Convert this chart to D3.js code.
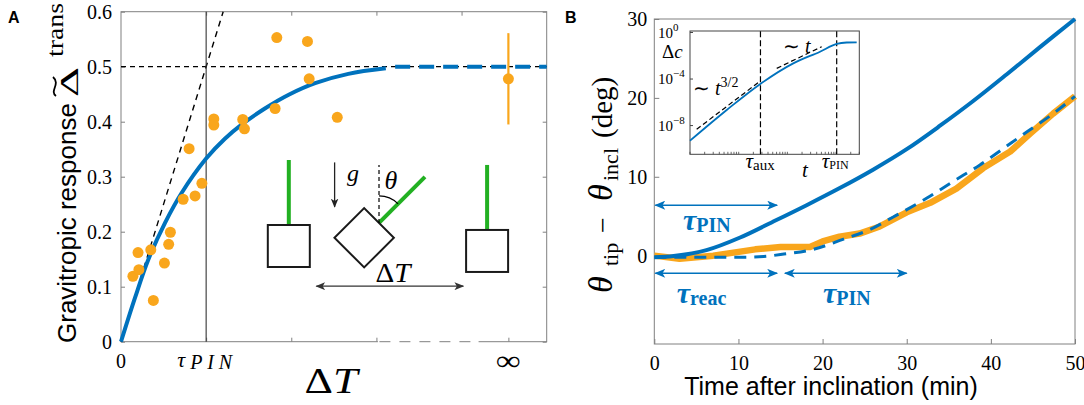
<!DOCTYPE html>
<html>
<head>
<meta charset="utf-8">
<script src="https://cdn.jsdelivr.net/npm/d3@7"></script>
<style>
body { margin: 0; background: #fff; }
svg { display: block; }
</style>
</head>
<body>
<script>
var w = 1084;
var h = 405;
var svg = d3.select("body")
	.append("svg")
	.attr("width", w)
	.attr("height", h);

var blue = "#0072bd";
var orange = "#f9a61c";
var green = "#22b022";
var axisGrey = "#808080";
var serif = "'Liberation Serif', 'Times New Roman', serif";
var sans = "'Liberation Sans', Arial, sans-serif";

// panel A, x in units of tau_PIN
var respX = [0.14, 0.21, 0.20, 0.35, 0.38, 0.51, 0.56, 0.58, 0.73, 0.80, 0.87, 0.95, 1.09, 1.09, 1.43, 1.45, 1.81, 1.83, 2.19, 2.21, 2.54];
var respY = [0.119, 0.131, 0.162, 0.167, 0.075, 0.143, 0.177, 0.199, 0.259, 0.351, 0.265, 0.288, 0.405, 0.394, 0.404, 0.387, 0.424, 0.553, 0.546, 0.478, 0.408];
var fitX = [0, 0.165, 0.32, 0.52, 0.71, 1.0, 1.22, 1.42, 1.69, 1.97, 2.28, 2.67, 3.11];
var fitY = [0, 0.080, 0.149, 0.217, 0.270, 0.333, 0.369, 0.395, 0.424, 0.449, 0.470, 0.487, 0.497];
var tangentX = [0, 1.2];
var tangentY = [0, 0.6];
var plateau = 0.5;
var infX = 4.55;
var infY = 0.478;
var infLow = 0.395;
var infHigh = 0.561;
var aYTicks = [0, 0.1, 0.2, 0.3, 0.4, 0.5, 0.6];
var aTopTicks = [1, 2, 3, 4];
var aBottomTicks = [1, 2, 3, infX];

// schematic plants drawn inside panel A (data units of A)
var plantX = [1.971, 2.856, 4.3];
var plantY = [0.174, 0.189, 0.165];
var plantTilt = [0, 45, 0];

// panel B, minutes / degrees
var timeObs = [0, 3, 7, 12, 15, 18.5, 20, 22, 24.4, 26.8, 30, 32.8, 35.9, 39.1, 42.3, 44.7, 47.4, 50];
var thetaObs = [0, -0.4, 0, 0.8, 1.1, 1.1, 1.8, 2.4, 2.8, 3.7, 5.5, 6.7, 8.5, 11.1, 13.2, 15.5, 18.0, 20.2];
var timeFit = [0, 5, 10, 13, 15.4, 18.9, 22.5, 25.4, 28.4, 32.4, 35.5, 38.7, 41.5, 44.3, 47.4, 50];
var thetaFit = [-0.2, -0.2, -0.2, -0.1, 0.2, 0.8, 2.1, 3.2, 4.9, 7.3, 9.4, 11.5, 13.6, 15.7, 18.0, 20.2];
var timeModel = [0, 2.3, 6.2, 10.2, 14.1, 18.1, 22.1, 26, 30, 34, 37.9, 41.9, 45.8, 50];
var thetaModel = [-0.2, -0.05, 0.7, 2.3, 4.3, 6.4, 8.6, 10.9, 13.5, 16.5, 19.6, 23.0, 26.4, 30];
var bXTicks = [0, 10, 20, 30, 40, 50];
var bYTicks = [0, 10, 20, 30];

// arrows for the time scales in B
var arrowStart = [0, 0, 15.4];
var arrowEnd = [14.6, 14.6, 30];
var arrowY = [6.4, -2.24, -2.24];
var arrowSub = ["PIN", "reac", "PIN"];
var arrowLabelX = [3.4, 2.66, 20.05];
var arrowLabelY = [3.25, -6.0, -6.0];

// inset of B (log-log)
var insetT = [0.01, 0.0568, 0.278, 1.32, 4.68, 10.3, 16.5, 26.5];
var insetLogDc = [-9.30, -6.66, -4.42, -2.65, -1.65, -0.98, -0.86, -0.84];
var slowT = [0.0137, 0.278];
var slowLogDc = [-8.32, -4.17];
var fastT = [0.604, 5.07];
var fastLogDc = [-3.08, -1.22];
var tauAux = 0.28;
var tauPin = 10.3;
var insetYTicks = [0, -4, -8];

var defs = svg.append("defs");
function arrowMarker(id, color, len, wid){
	defs.append("marker")
		.attr("id", id)
		.attr("viewBox", "0 0 12 10")
		.attr("refX", 11)
		.attr("refY", 5)
		.attr("markerWidth", len)
		.attr("markerHeight", wid)
		.attr("markerUnits", "userSpaceOnUse")
		.attr("orient", "auto-start-reverse")
		.append("path")
		.attr("d", "M0,0L12,5L0,10L3,5Z")
		.attr("fill", color);
}
arrowMarker("headBlue", blue, 13, 9);
arrowMarker("headDark", "#333", 10, 8);
arrowMarker("headG", "#222", 9, 8);

function styleAxis(g){
	g.attr("font-family", serif).attr("font-size", 20);
	g.select(".domain").remove();
	g.selectAll("line").attr("stroke", axisGrey);
	g.selectAll("text").attr("fill", "#000");
}

/* ---------------- panel A ---------------- */
var xA = d3.scaleLinear().domain([0, 5]).range([121, 546.7]);
var yA = d3.scaleLinear().domain([0, 0.6]).range([341.7, 11.7]);
var gA = svg.append("g");

gA.append("rect")
	.attr("x", xA(0))
	.attr("y", yA(0.6))
	.attr("width", xA(5) - xA(0))
	.attr("height", yA(0) - yA(0.6))
	.attr("fill", "none")
	.attr("stroke", axisGrey);

gA.append("g")
	.attr("transform", "translate(" + xA(0) + ",0)")
	.call(d3.axisLeft(yA).tickValues(aYTicks).tickSizeInner(-4).tickSizeOuter(0).tickPadding(9)
		.tickFormat(function(d){ return d === 0 ? "0" : d.toFixed(1); }))
	.call(styleAxis);
gA.append("g")
	.attr("transform", "translate(" + xA(5) + ",0)")
	.call(d3.axisRight(yA).tickValues(aYTicks).tickSizeInner(-4).tickSizeOuter(0).tickFormat(""))
	.call(styleAxis);
gA.append("g")
	.attr("transform", "translate(0," + yA(0.6) + ")")
	.call(d3.axisTop(xA).tickValues(aTopTicks).tickSizeInner(-4).tickSizeOuter(0).tickFormat(""))
	.call(styleAxis);
gA.append("g")
	.attr("transform", "translate(0," + yA(0) + ")")
	.call(d3.axisBottom(xA).tickValues(aBottomTicks).tickSizeInner(-4).tickSizeOuter(0).tickFormat(""))
	.call(styleAxis);

// broken x axis between 3 and the infinity point
gA.append("line")
	.attr("x1", xA(3) + 1.5).attr("x2", xA(4.2))
	.attr("y1", yA(0)).attr("y2", yA(0))
	.attr("stroke", "#fff").attr("stroke-width", 3);
gA.append("line")
	.attr("x1", xA(3) + 3).attr("x2", xA(4.2))
	.attr("y1", yA(0)).attr("y2", yA(0))
	.attr("stroke", axisGrey).attr("stroke-dasharray", "11,9");

var lineA = d3.line()
	.x(function(d){ return xA(d[0]); })
	.y(function(d){ return yA(d[1]); });

gA.append("line")
	.attr("x1", xA(0)).attr("x2", xA(5))
	.attr("y1", yA(plateau)).attr("y2", yA(plateau))
	.attr("stroke", "#000").attr("stroke-width", 1.2)
	.attr("stroke-dasharray", "5,4");
gA.append("path")
	.attr("d", lineA(d3.zip(tangentX, tangentY)))
	.attr("fill", "none").attr("stroke", "#000").attr("stroke-width", 1.4)
	.attr("stroke-dasharray", "6,5");
gA.append("line")
	.attr("x1", xA(1)).attr("x2", xA(1))
	.attr("y1", yA(0)).attr("y2", yA(0.6))
	.attr("stroke", "#333").attr("stroke-width", 1.1);

gA.append("path")
	.attr("d", lineA.curve(d3.curveCatmullRom.alpha(0.5))(d3.zip(fitX, fitY)))
	.attr("fill", "none").attr("stroke", blue).attr("stroke-width", 4);
gA.append("line")
	.attr("x1", xA(3.22)).attr("x2", xA(5))
	.attr("y1", yA(plateau)).attr("y2", yA(plateau))
	.attr("stroke", blue).attr("stroke-width", 4)
	.attr("stroke-dasharray", "15,9");

gA.selectAll("circle.resp")
	.data(d3.zip(respX, respY))
	.enter()
	.append("circle")
	.attr("class", "resp")
	.attr("cx", function(d){ return xA(d[0]); })
	.attr("cy", function(d){ return yA(d[1]); })
	.attr("r", 5.5)
	.attr("fill", orange);

gA.append("line")
	.attr("x1", xA(infX)).attr("x2", xA(infX))
	.attr("y1", yA(infLow)).attr("y2", yA(infHigh))
	.attr("stroke", orange).attr("stroke-width", 2.2);
gA.append("circle")
	.attr("cx", xA(infX)).attr("cy", yA(infY)).attr("r", 5.5)
	.attr("fill", orange);

// schematic of the inclination protocol
var plants = gA.selectAll("g.plant")
	.data(plantX)
	.enter()
	.append("g")
	.attr("class", "plant")
	.attr("transform", function(d, i){
		return "translate(" + xA(d) + "," + yA(plantY[i]) + ") rotate(" + plantTilt[i] + ")";
	});
plants.append("line")
	.attr("x1", 0).attr("x2", 0).attr("y1", -21).attr("y2", -86)
	.attr("stroke", green).attr("stroke-width", 4);
plants.append("rect")
	.attr("x", -21).attr("y", -21).attr("width", 42).attr("height", 42)
	.attr("fill", "none").attr("stroke", "#1a1a1a").attr("stroke-width", 2);

var tiltRad = plantTilt[1] * Math.PI / 180;
var baseX = xA(plantX[1]) + 21 * Math.sin(tiltRad);
var baseY = yA(plantY[1]) - 21 * Math.cos(tiltRad);
var gTilt = gA.append("g").attr("transform", "translate(" + baseX + "," + baseY + ")");
gTilt.append("line")
	.attr("x1", 0).attr("x2", 0).attr("y1", 0).attr("y2", -58)
	.attr("stroke", "#000").attr("stroke-width", 1.2).attr("stroke-dasharray", "4,3");
var arcPath = d3.path();
arcPath.arc(0, 0, 27, -Math.PI / 2, -Math.PI / 2 + tiltRad);
gTilt.append("path")
	.attr("d", arcPath.toString())
	.attr("fill", "none").attr("stroke", "#000").attr("stroke-width", 1.2);

gA.append("line")
	.attr("x1", xA(2.509)).attr("x2", xA(2.509))
	.attr("y1", yA(0.326)).attr("y2", yA(0.245))
	.attr("stroke", "#222").attr("stroke-width", 1.3)
	.attr("marker-end", "url(#headG)");
gA.append("text")
	.attr("x", xA(2.655)).attr("y", yA(0.292))
	.attr("font-family", serif).attr("font-style", "italic").attr("font-size", 24)
	.text("g");
gA.append("text")
	.attr("x", xA(3.094)).attr("y", yA(0.277))
	.attr("font-family", serif).attr("font-style", "italic").attr("font-size", 26)
	.text("θ");
gA.append("line")
	.attr("x1", xA(2.294)).attr("x2", xA(4.02))
	.attr("y1", yA(0.101)).attr("y2", yA(0.101))
	.attr("stroke", "#333").attr("stroke-width", 1.3)
	.attr("marker-start", "url(#headDark)")
	.attr("marker-end", "url(#headDark)");
var dtIn = gA.append("text")
	.attr("x", xA(2.988)).attr("y", yA(0.109))
	.attr("font-family", serif).attr("font-size", 27)
	.attr("textLength", 35).attr("lengthAdjust", "spacingAndGlyphs");
dtIn.append("tspan").text("Δ");
dtIn.append("tspan").attr("font-style", "italic").text("T");

// x tick labels of A
gA.append("text")
	.attr("x", xA(0)).attr("y", yA(0) + 26.3)
	.attr("text-anchor", "middle")
	.attr("font-family", serif).attr("font-size", 20)
	.text("0");
gA.append("text")
	.attr("x", xA(1) - 29).attr("y", yA(0) + 25.5)
	.attr("font-family", serif).attr("font-style", "italic").attr("font-size", 22)
	.text("τ");
gA.append("text")
	.attr("x", xA(1) - 16).attr("y", yA(0) + 27.5)
	.attr("font-family", serif).attr("font-style", "italic").attr("font-size", 20)
	.attr("textLength", 42).attr("lengthAdjust", "spacing")
	.text("PIN");
gA.append("text")
	.attr("x", xA(infX) - 12.5).attr("y", yA(0) + 28)
	.attr("font-family", serif).attr("font-size", 28)
	.attr("textLength", 25).attr("lengthAdjust", "spacingAndGlyphs")
	.text("∞");
var dtAxis = gA.append("text")
	.attr("x", 304.5).attr("y", 393)
	.attr("font-family", serif).attr("font-size", 36)
	.attr("textLength", 53).attr("lengthAdjust", "spacingAndGlyphs");
dtAxis.append("tspan").text("Δ");
dtAxis.append("tspan").attr("font-style", "italic").text("T");

// y label of A
var yLabA = svg.append("g").attr("transform", "translate(76,343) rotate(-90)");
yLabA.append("text")
	.attr("x", 0).attr("y", 0)
	.attr("font-family", sans).attr("font-size", 26)
	.text("Gravitropic response");
yLabA.append("text")
	.attr("x", 246).attr("y", 2)
	.attr("font-family", serif).attr("font-size", 25)
	.attr("textLength", 30).attr("lengthAdjust", "spacingAndGlyphs")
	.text("Δ");
yLabA.append("path")
	.attr("d", "M247,-20C252,-27 259,-15 266,-23")
	.attr("fill", "none").attr("stroke", "#000").attr("stroke-width", 1.8);
yLabA.append("text")
	.attr("x", 286).attr("y", -13)
	.attr("font-family", serif).attr("font-size", 24)
	.attr("textLength", 54).attr("lengthAdjust", "spacingAndGlyphs")
	.text("trans");

svg.append("text")
	.attr("x", 8).attr("y", 23)
	.attr("font-family", sans).attr("font-weight", "bold").attr("font-size", 16)
	.text("A");

/* ---------------- panel B ---------------- */
var xB = d3.scaleLinear().domain([0, 50]).range([654.3, 1075]);
var yB = d3.scaleLinear().domain([-11.2, 30]).range([344, 19]);
var gB = svg.append("g");

gB.append("rect")
	.attr("x", xB(0))
	.attr("y", yB(30))
	.attr("width", xB(50) - xB(0))
	.attr("height", yB(-11.2) - yB(30))
	.attr("fill", "none")
	.attr("stroke", axisGrey);
gB.append("g")
	.attr("transform", "translate(" + xB(0) + ",0)")
	.call(d3.axisLeft(yB).tickValues(bYTicks).tickSizeInner(-5).tickSizeOuter(0).tickPadding(7))
	.call(styleAxis);
gB.append("g")
	.attr("transform", "translate(0," + yB(-11.2) + ")")
	.call(d3.axisBottom(xB).tickValues(bXTicks).tickSizeInner(-5).tickSizeOuter(0).tickPadding(11.8))
	.call(styleAxis);

var lineB = d3.line()
	.x(function(d){ return xB(d[0]); })
	.y(function(d){ return yB(d[1]); });

gB.append("path")
	.attr("d", lineB(d3.zip(timeObs, thetaObs)))
	.attr("fill", "none").attr("stroke", orange).attr("stroke-width", 6.5)
	.attr("stroke-linejoin", "round");
gB.append("path")
	.attr("d", lineB.curve(d3.curveMonotoneX)(d3.zip(timeFit, thetaFit)))
	.attr("fill", "none").attr("stroke", blue).attr("stroke-width", 3)
	.attr("stroke-dasharray", "12,8");
gB.append("path")
	.attr("d", lineB.curve(d3.curveCatmullRom.alpha(0.5))(d3.zip(timeModel, thetaModel)))
	.attr("fill", "none").attr("stroke", blue).attr("stroke-width", 4);

gB.selectAll("line.span")
	.data(arrowY)
	.enter()
	.append("line")
	.attr("class", "span")
	.attr("x1", function(d, i){ return xB(arrowStart[i]) + 1; })
	.attr("x2", function(d, i){ return xB(arrowEnd[i]); })
	.attr("y1", function(d){ return yB(d); })
	.attr("y2", function(d){ return yB(d); })
	.attr("stroke", blue).attr("stroke-width", 1.5)
	.attr("marker-start", "url(#headBlue)")
	.attr("marker-end", "url(#headBlue)");
var spanLab = gB.selectAll("text.span")
	.data(arrowSub)
	.enter()
	.append("text")
	.attr("class", "span")
	.attr("x", function(d, i){ return xB(arrowLabelX[i]); })
	.attr("y", function(d, i){ return yB(arrowLabelY[i]); })
	.attr("font-family", serif).attr("font-weight", "bold")
	.attr("fill", blue);
spanLab.append("tspan")
	.attr("font-style", "italic").attr("font-size", 30)
	.text("τ");
spanLab.append("tspan")
	.attr("font-size", 20).attr("dy", 2)
	.text(function(d){ return d; });

// inset
var xIn = d3.scaleLog().domain([0.01, 30]).range([690, 859.3]);
var yIn = d3.scaleLinear().domain([-10.47, 0.13]).range([154.3, 31]);
var gIn = svg.append("g");
gIn.append("rect")
	.attr("x", xIn(0.01)).attr("y", yIn(0.13))
	.attr("width", xIn(30) - xIn(0.01)).attr("height", yIn(-10.47) - yIn(0.13))
	.attr("fill", "#fff").attr("stroke", "#444");
gIn.selectAll("line.minor")
	.data(xIn.ticks())
	.enter()
	.append("line")
	.attr("class", "minor")
	.attr("x1", function(d){ return xIn(d); })
	.attr("x2", function(d){ return xIn(d); })
	.attr("y1", yIn(-10.47))
	.attr("y2", yIn(-10.47) - 2.5)
	.attr("stroke", "#444").attr("stroke-width", 0.8);
gIn.selectAll("line.ytick")
	.data(insetYTicks)
	.enter()
	.append("line")
	.attr("class", "ytick")
	.attr("x1", xIn(0.01)).attr("x2", xIn(0.01) + 3)
	.attr("y1", function(d){ return yIn(d); })
	.attr("y2", function(d){ return yIn(d); })
	.attr("stroke", "#444");
gIn.selectAll("line.tau")
	.data([tauAux, tauPin])
	.enter()
	.append("line")
	.attr("class", "tau")
	.attr("x1", function(d){ return xIn(d); })
	.attr("x2", function(d){ return xIn(d); })
	.attr("y1", yIn(-10.47))
	.attr("y2", yIn(0.13))
	.attr("stroke", "#000").attr("stroke-width", 1.2)
	.attr("stroke-dasharray", "6,3");

var lineIn = d3.line()
	.x(function(d){ return xIn(d[0]); })
	.y(function(d){ return yIn(d[1]); });
gIn.append("path")
	.attr("d", lineIn(d3.zip(slowT, slowLogDc)))
	.attr("fill", "none").attr("stroke", "#000").attr("stroke-width", 1.2)
	.attr("stroke-dasharray", "5,3");
gIn.append("path")
	.attr("d", lineIn(d3.zip(fastT, fastLogDc)))
	.attr("fill", "none").attr("stroke", "#000").attr("stroke-width", 1.2)
	.attr("stroke-dasharray", "5,3");
gIn.append("path")
	.attr("d", lineIn.curve(d3.curveMonotoneX)(d3.zip(insetT, insetLogDc)))
	.attr("fill", "none").attr("stroke", blue).attr("stroke-width", 1.8);

var inTick = gIn.selectAll("text.ytick")
	.data(insetYTicks)
	.enter()
	.append("text")
	.attr("class", "ytick")
	.attr("x", 658)
	.attr("y", function(d){ return yIn(d) + 5; })
	.attr("font-family", serif).attr("font-size", 15);
inTick.append("tspan").text("10");
inTick.append("tspan")
	.attr("font-size", 11).attr("dy", -7)
	.text(function(d){ return d === 0 ? "0" : "−" + (-d); });

var dc = gIn.append("text")
	.attr("x", 662).attr("y", 58)
	.attr("font-family", serif).attr("font-size", 19);
dc.append("tspan").text("Δ");
dc.append("tspan").attr("font-style", "italic").text("c");

var slowLab = gIn.append("text")
	.attr("x", 693).attr("y", 95)
	.attr("font-family", serif).attr("font-size", 20);
slowLab.append("tspan").text("∼ ");
slowLab.append("tspan").attr("font-style", "italic").text("t");
slowLab.append("tspan").attr("font-size", 14).attr("dy", -8).text("3/2");
var fastLab = gIn.append("text")
	.attr("x", 783).attr("y", 53)
	.attr("font-family", serif).attr("font-size", 20);
fastLab.append("tspan").text("∼ ");
fastLab.append("tspan").attr("font-style", "italic").text("t");

var auxLab = gIn.append("text")
	.attr("x", xIn(tauAux) - 15).attr("y", 168)
	.attr("font-family", serif).attr("font-size", 21);
auxLab.append("tspan").attr("font-style", "italic").text("τ");
auxLab.append("tspan").attr("font-size", 15).attr("dy", 2).text("aux");
gIn.append("text")
	.attr("x", 805).attr("y", 177)
	.attr("text-anchor", "middle")
	.attr("font-family", serif).attr("font-style", "italic").attr("font-size", 21)
	.text("t");
var pinLab = gIn.append("text")
	.attr("x", xIn(tauPin) - 15).attr("y", 168)
	.attr("font-family", serif).attr("font-size", 21);
pinLab.append("tspan").attr("font-style", "italic").text("τ");
pinLab.append("tspan").attr("font-size", 12).attr("dy", 1).text("PIN");

// y label of B
var yLabB = svg.append("g").attr("transform", "translate(612,293) rotate(-90)");
var yParts = [
	{t: "θ", x: 0, s: 34, it: true, dy: 0},
	{t: "tip", x: 27, s: 22, it: false, dy: 6},
	{t: "−", x: 60, s: 28, it: false, dy: 0},
	{t: "θ", x: 92, s: 34, it: true, dy: 0},
	{t: "incl", x: 112, s: 22, it: false, dy: 6},
	{t: "(deg)", x: 155, s: 29, it: false, dy: 0}
];
yLabB.selectAll("text")
	.data(yParts)
	.enter()
	.append("text")
	.attr("x", function(d){ return d.x; })
	.attr("y", function(d){ return d.dy; })
	.attr("font-family", serif)
	.attr("font-size", function(d){ return d.s; })
	.attr("font-style", function(d){ return d.it ? "italic" : "normal"; })
	.text(function(d){ return d.t; });

svg.append("text")
	.attr("x", 831).attr("y", 395)
	.attr("text-anchor", "middle")
	.attr("font-family", sans).attr("font-size", 25)
	.text("Time after inclination (min)");

svg.append("text")
	.attr("x", 565).attr("y", 23)
	.attr("font-family", sans).attr("font-weight", "bold").attr("font-size", 16)
	.text("B");
</script>
</body>
</html>
